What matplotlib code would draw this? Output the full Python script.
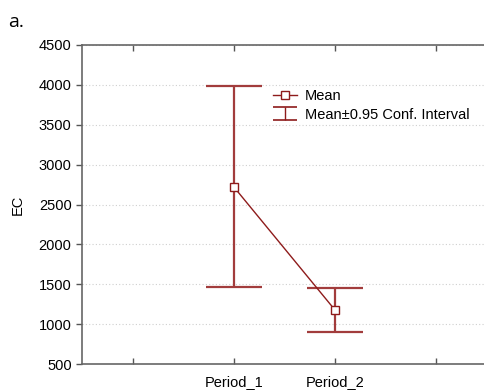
import matplotlib
matplotlib.use('Agg')
import matplotlib.pyplot as plt
from matplotlib.lines import Line2D
from matplotlib.collections import LineCollection
from matplotlib.container import ErrorbarContainer
from matplotlib.legend_handler import HandlerErrorbar

# values
periods = ['Period_1', 'Period_2']
means = [2720, 1175]
ci_low = [1460, 905]
ci_high = [3990, 1450]

plt.rcParams['font.family'] = ['Liberation Sans', 'DejaVu Sans']
fs = 10.5

fig = plt.figure(figsize=(4.84, 3.9), dpi=100)
ax = fig.add_axes([82 / 484, 1 - 364 / 390, (487 - 82) / 484, (364 - 45) / 390])

dark = '#8e1b1b'
err_col = '#a23c3c'
xpos = [1, 2]
yerr = [[m - lo for m, lo in zip(means, ci_low)],
        [hi - m for m, hi in zip(means, ci_high)]]

ax.errorbar(xpos, means, yerr=yerr, fmt='none', ecolor=err_col,
            elinewidth=1.6, capsize=20, capthick=1.6, zorder=2)
ax.plot(xpos, means, color=dark, linewidth=1.0, marker='s', markersize=5.5,
        markerfacecolor='white', markeredgecolor=dark, markeredgewidth=1.0, zorder=3)

ax.set_xlim(-0.5, 3.5)
ax.set_ylim(500, 4500)
ax.set_xticks([0, 1, 2, 3])
ax.set_xticklabels(['', periods[0], periods[1], ''])
ax.set_yticks(range(500, 4501, 500))
ax.tick_params(axis='x', direction='in', top=True, length=4, width=1, color='#555555',
               labelsize=fs, pad=8)
ax.tick_params(axis='y', direction='out', length=4, width=1, color='#555555',
               labelsize=fs)
for s in ax.spines.values():
    s.set_color('#666666')
    s.set_linewidth(1.2)
ax.yaxis.grid(True, linestyle=(0, (1, 2)), color='#cfcfcf', linewidth=0.8)
ax.set_axisbelow(True)
ax.set_ylabel('EC', fontsize=fs, labelpad=10)

# legend handles
h_mean = Line2D([], [], color=dark, linewidth=1.0, marker='s', markersize=5.5,
                markerfacecolor='white', markeredgecolor=dark)
cap = Line2D([], [], color=dark, marker='_', markersize=17, markeredgewidth=1.2)
bars = LineCollection([], colors=dark, linewidths=1.0)
h_ci = ErrorbarContainer((None, (cap, cap), (bars,)), has_xerr=False, has_yerr=True)

ax.legend([h_mean, h_ci], ['Mean', 'Mean±0.95 Conf. Interval'], loc='upper left',
          bbox_to_anchor=(0.44, 0.9025), frameon=False, fontsize=fs,
          handlelength=1.65, handletextpad=0.5, labelspacing=0.3,
          handler_map={ErrorbarContainer: HandlerErrorbar(xerr_size=0.5, yerr_size=0.45)})

fig.text(8 / 484, 1 - 27 / 390, 'a.', fontsize=14, family=['Open Sans', 'DejaVu Sans'])

fig.savefig('out.png', dpi=100)
